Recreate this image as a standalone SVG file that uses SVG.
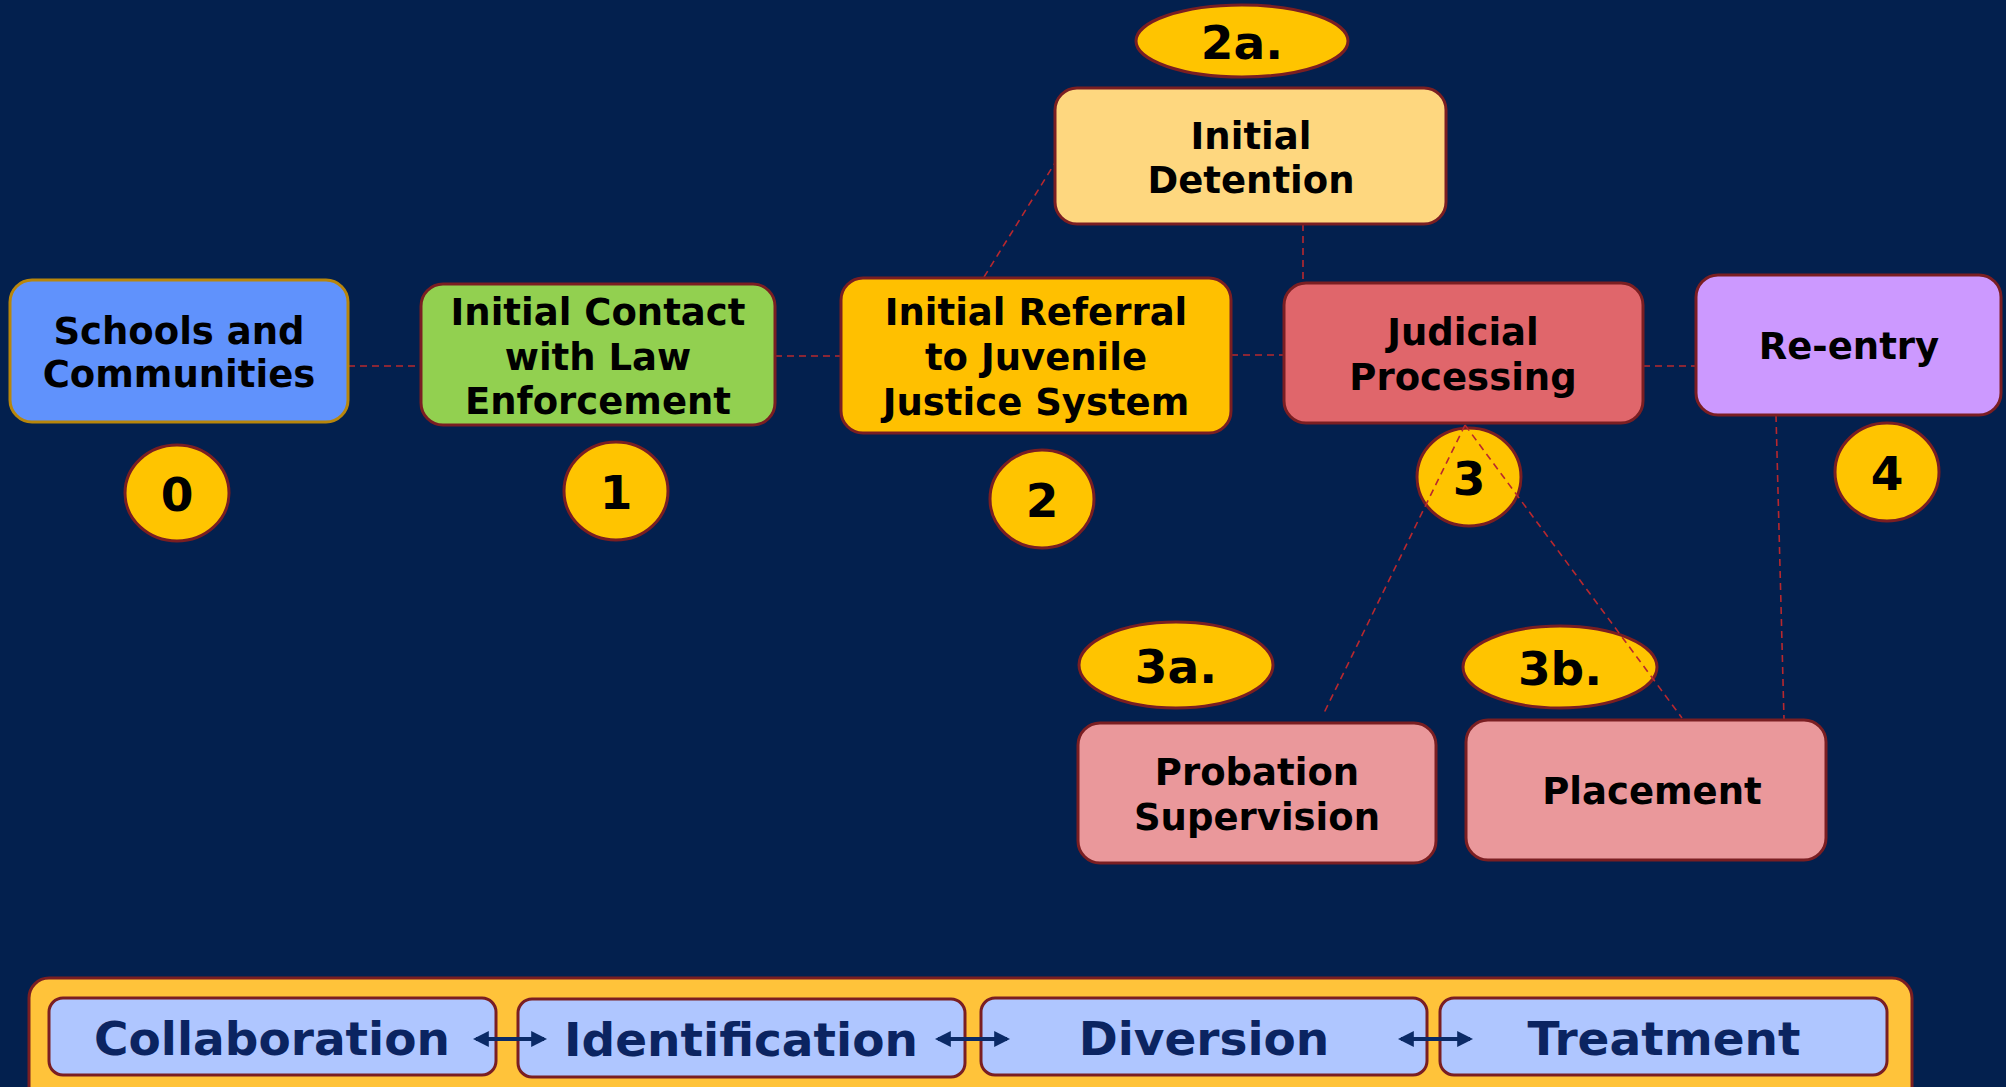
<svg xmlns="http://www.w3.org/2000/svg" width="2006" height="1087" viewBox="0 0 2006 1087">
<style>
.node{stroke:#7A1E22;stroke-width:3}
.t{font-family:"DejaVu Sans","Verdana",sans-serif;font-weight:bold;font-size:37px;fill:#000;text-anchor:middle}
.num{font-family:"DejaVu Sans","Verdana",sans-serif;font-weight:bold;font-size:47px;fill:#000;text-anchor:middle}
.badge{fill:#FFC400;stroke:#7A1E22;stroke-width:3}
.conn{stroke:#B8282E;stroke-width:1.6;stroke-dasharray:7 5;fill:none}
.bt{font-family:"DejaVu Sans","Verdana",sans-serif;font-weight:bold;font-size:47px;fill:#0B2461;text-anchor:middle}
.bbox{fill:#AFC6FF;stroke:#7A1E22;stroke-width:3}
.arr{stroke:#0B2A66;stroke-width:4;fill:none;marker-start:url(#ah);marker-end:url(#ah)}
</style>
<defs>
<marker id="ah" viewBox="0 0 10 10" refX="8" refY="5" markerWidth="4" markerHeight="4" orient="auto-start-reverse" markerUnits="strokeWidth">
<path d="M0,0 L10,5 L0,10 z" fill="#0B2A66"/>
</marker>
</defs>
<rect x="0" y="0" width="2006" height="1087" fill="#03204E"/>

<g id="badges">
<g id="badge-0"><ellipse class="badge" cx="177" cy="493" rx="52" ry="48"/><text class="num" x="177" y="511">0</text></g>
<g id="badge-1"><ellipse class="badge" cx="616" cy="491" rx="52" ry="49"/><text class="num" x="616" y="509">1</text></g>
<g id="badge-2"><ellipse class="badge" cx="1042" cy="499" rx="52" ry="49"/><text class="num" x="1042" y="517">2</text></g>
<g id="badge-2a"><ellipse class="badge" cx="1242" cy="41" rx="106" ry="36"/><text class="num" x="1242" y="59">2a.</text></g>
<g id="badge-3"><ellipse class="badge" cx="1469" cy="477" rx="52" ry="49"/><text class="num" x="1469" y="495">3</text></g>
<g id="badge-4"><ellipse class="badge" cx="1887" cy="472" rx="52" ry="49"/><text class="num" x="1887" y="490">4</text></g>
<g id="badge-3a"><ellipse class="badge" cx="1176" cy="665" rx="97" ry="43"/><text class="num" x="1176" y="683">3a.</text></g>
<g id="badge-3b"><ellipse class="badge" cx="1560" cy="667" rx="97" ry="41"/><text class="num" x="1560" y="685">3b.</text></g>
</g>

<g id="connectors">
<line class="conn" x1="348" y1="366" x2="421" y2="366"/>
<line class="conn" x1="775" y1="356" x2="841" y2="356"/>
<line class="conn" x1="1231" y1="355" x2="1284" y2="355"/>
<line class="conn" x1="984" y1="277" x2="1055" y2="163"/>
<line class="conn" x1="1303" y1="224" x2="1303" y2="283"/>
<line class="conn" x1="1643" y1="366" x2="1696" y2="366"/>
<line class="conn" x1="1465" y1="425" x2="1323" y2="715"/>
<line class="conn" x1="1465" y1="425" x2="1682" y2="718"/>
<line class="conn" x1="1776" y1="415" x2="1784" y2="719"/>
</g>

<g id="node-schools">
<rect x="10" y="280" width="338" height="142" rx="22" fill="#6092FC" stroke="#B8860B" stroke-width="3"/>
<text class="t" x="179" y="344">Schools and</text>
<text class="t" x="179" y="387">Communities</text>
</g>
<g id="node-contact">
<rect class="node" x="421" y="284" width="354" height="141" rx="22" fill="#92D050"/>
<text class="t" x="598" y="325">Initial Contact</text>
<text class="t" x="598" y="370">with Law</text>
<text class="t" x="598" y="414">Enforcement</text>
</g>
<g id="node-referral">
<rect class="node" x="841" y="278" width="390" height="155" rx="22" fill="#FFC000"/>
<text class="t" x="1036" y="325">Initial Referral</text>
<text class="t" x="1036" y="370">to Juvenile</text>
<text class="t" x="1036" y="415">Justice System</text>
</g>
<g id="node-detention">
<rect class="node" x="1055" y="88" width="391" height="136" rx="22" fill="#FED77F"/>
<text class="t" x="1251" y="149">Initial</text>
<text class="t" x="1251" y="193">Detention</text>
</g>
<g id="node-judicial">
<rect class="node" x="1284" y="283" width="359" height="140" rx="22" fill="#E0666B"/>
<text class="t" x="1463" y="345">Judicial</text>
<text class="t" x="1463" y="390">Processing</text>
</g>
<g id="node-reentry">
<rect class="node" x="1696" y="275" width="305" height="140" rx="22" fill="#CC99FF"/>
<text class="t" x="1849" y="359">Re-entry</text>
</g>
<g id="node-probation">
<rect class="node" x="1078" y="723" width="358" height="140" rx="22" fill="#EA989B"/>
<text class="t" x="1257" y="785">Probation</text>
<text class="t" x="1257" y="830">Supervision</text>
</g>
<g id="node-placement">
<rect class="node" x="1466" y="720" width="360" height="140" rx="22" fill="#EA989B"/>
<text class="t" x="1652" y="804">Placement</text>
</g>

<g id="bottom-band">
<rect x="29" y="978" width="1883" height="130" rx="20" fill="#FFC33A" stroke="#7A1E22" stroke-width="3"/>
<g id="box-collaboration"><rect class="bbox" x="49" y="998" width="447" height="77" rx="14"/><text class="bt" x="272" y="1055">Collaboration</text></g>
<g id="box-identification"><rect class="bbox" x="518" y="999" width="447" height="78" rx="14"/><text class="bt" x="741" y="1056">Identification</text></g>
<g id="box-diversion"><rect class="bbox" x="981" y="998" width="446" height="77" rx="14"/><text class="bt" x="1204" y="1055">Diversion</text></g>
<g id="box-treatment"><rect class="bbox" x="1440" y="998" width="447" height="77" rx="14"/><text class="bt" x="1664" y="1055">Treatment</text></g>
<line class="arr" x1="476" y1="1039" x2="544" y2="1039"/>
<line class="arr" x1="938" y1="1039" x2="1007" y2="1039"/>
<line class="arr" x1="1401" y1="1039" x2="1470" y2="1039"/>
</g>
</svg>
